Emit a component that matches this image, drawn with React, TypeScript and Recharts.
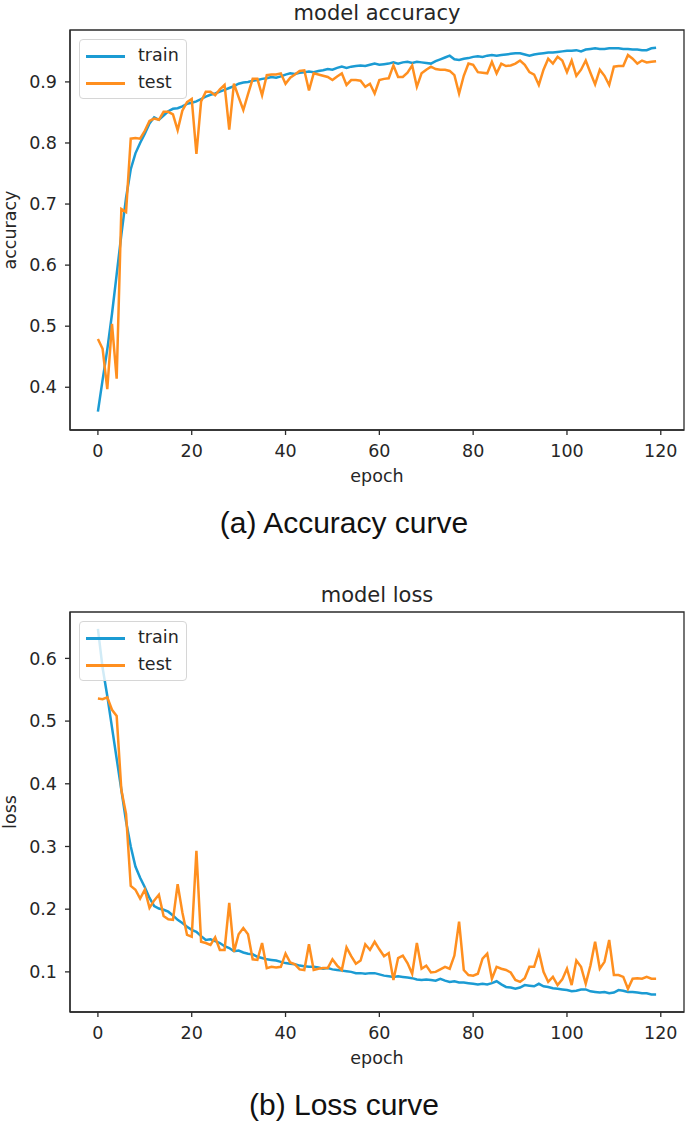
import { Line, LineChart, ReferenceArea, XAxis, YAxis } from "recharts";

const FONT = "DejaVu Sans, sans-serif";
const CAPTION_FONT = "Liberation Sans, Arial, sans-serif";
const TEXT = "#262626";
const AXIS = "#2b2b2b";
const TRAIN_COLOR = "#1b9bd3";
const TEST_COLOR = "#ff8f1f";

const EPOCH_TICKS = [0, 20, 40, 60, 80, 100, 120];
const ACC_TICKS = [0.4, 0.5, 0.6, 0.7, 0.8, 0.9];
const LOSS_TICKS = [0.1, 0.2, 0.3, 0.4, 0.5, 0.6];

const TRAIN_ACC = [
  0.36, 0.412, 0.462, 0.52, 0.585, 0.65, 0.71, 0.757, 0.783, 0.8,
  0.815, 0.832, 0.842, 0.838, 0.845, 0.852, 0.856, 0.857, 0.86, 0.864,
  0.866, 0.868, 0.872, 0.876, 0.879, 0.881, 0.884, 0.887, 0.89, 0.893,
  0.897, 0.899, 0.9, 0.902, 0.903, 0.905, 0.906, 0.908, 0.907, 0.909,
  0.912, 0.914, 0.913, 0.915, 0.916, 0.917, 0.916, 0.918, 0.919, 0.921,
  0.92, 0.923, 0.925, 0.923, 0.925, 0.926, 0.927, 0.926, 0.928, 0.93,
  0.928, 0.929, 0.93, 0.932, 0.93, 0.932, 0.933, 0.931, 0.933, 0.932,
  0.931, 0.93, 0.934, 0.937, 0.94, 0.943, 0.937, 0.936, 0.938, 0.939,
  0.941, 0.942, 0.941, 0.943, 0.944, 0.943, 0.944, 0.945, 0.946, 0.947,
  0.947, 0.945, 0.943, 0.945, 0.946, 0.947, 0.948, 0.948, 0.949, 0.95,
  0.951, 0.951, 0.952, 0.95, 0.953, 0.954, 0.955, 0.954, 0.954, 0.955,
  0.955, 0.955, 0.954, 0.954, 0.953, 0.953, 0.952, 0.952, 0.955, 0.956,
];

const TEST_ACC = [
  0.479, 0.463, 0.397, 0.504, 0.414, 0.692, 0.687, 0.807, 0.808, 0.807,
  0.82, 0.836, 0.84, 0.838, 0.851, 0.851, 0.847, 0.821, 0.853, 0.867,
  0.872, 0.782, 0.868, 0.884, 0.884, 0.878, 0.888, 0.895, 0.822, 0.897,
  0.875, 0.854, 0.88, 0.905, 0.905, 0.878, 0.911, 0.912, 0.912, 0.914,
  0.897, 0.907, 0.912, 0.918, 0.919, 0.886, 0.914, 0.912, 0.91, 0.908,
  0.903, 0.909, 0.914, 0.895, 0.903, 0.903, 0.902, 0.892, 0.897, 0.881,
  0.903, 0.905, 0.906, 0.927, 0.908, 0.908, 0.915, 0.927, 0.892, 0.914,
  0.92, 0.925, 0.921, 0.92, 0.92, 0.918, 0.911, 0.881, 0.91, 0.93,
  0.928, 0.916, 0.915, 0.914, 0.933, 0.914, 0.93, 0.926, 0.927, 0.93,
  0.935, 0.928, 0.916, 0.912, 0.895, 0.92, 0.938, 0.93, 0.941, 0.935,
  0.916, 0.935, 0.91, 0.92, 0.935, 0.915, 0.896, 0.92, 0.91, 0.895,
  0.925, 0.926, 0.926, 0.944, 0.938, 0.93, 0.935, 0.932, 0.933, 0.934,
];

const TRAIN_LOSS = [
  0.647, 0.585, 0.54, 0.49, 0.44, 0.39, 0.34, 0.3, 0.268, 0.25,
  0.235, 0.218, 0.205, 0.201, 0.199, 0.196, 0.19, 0.183, 0.178, 0.172,
  0.167, 0.164, 0.157, 0.151, 0.152, 0.149, 0.146, 0.141, 0.138, 0.133,
  0.134, 0.131, 0.129, 0.128, 0.124, 0.122, 0.12, 0.119, 0.118, 0.116,
  0.114, 0.113, 0.112, 0.11, 0.109, 0.108, 0.108, 0.107, 0.105, 0.106,
  0.104, 0.103, 0.102, 0.101, 0.1, 0.098, 0.098, 0.097, 0.098, 0.098,
  0.096, 0.094, 0.093, 0.092, 0.093, 0.092, 0.091, 0.09, 0.088, 0.087,
  0.088, 0.087, 0.086, 0.089, 0.086, 0.084, 0.085, 0.083, 0.083, 0.082,
  0.081, 0.08, 0.081, 0.08, 0.082, 0.085, 0.08, 0.076, 0.075, 0.073,
  0.075, 0.079, 0.078, 0.077, 0.081, 0.077, 0.076, 0.074, 0.073, 0.072,
  0.071, 0.069, 0.07, 0.072, 0.072, 0.069, 0.068, 0.067, 0.068, 0.066,
  0.067, 0.071, 0.07, 0.068, 0.068, 0.067, 0.066, 0.066, 0.064, 0.064,
];

const TEST_LOSS = [
  0.536, 0.535, 0.538, 0.518, 0.508, 0.39, 0.352, 0.237, 0.231, 0.217,
  0.231, 0.202, 0.214, 0.223, 0.189, 0.184, 0.183, 0.24, 0.195, 0.159,
  0.156, 0.293, 0.148, 0.146, 0.143, 0.155, 0.135, 0.135, 0.21, 0.132,
  0.16, 0.17, 0.16, 0.12, 0.119, 0.146, 0.106, 0.108, 0.107, 0.108,
  0.129, 0.115, 0.112, 0.104, 0.103, 0.144, 0.103, 0.105, 0.106, 0.106,
  0.12, 0.11, 0.103, 0.139, 0.125, 0.113, 0.118, 0.144, 0.135, 0.148,
  0.136, 0.125, 0.13, 0.087, 0.122, 0.126, 0.114, 0.097, 0.146, 0.105,
  0.11, 0.099, 0.1, 0.104, 0.108, 0.105, 0.126, 0.18, 0.103, 0.095,
  0.094, 0.097, 0.121, 0.129, 0.089, 0.108, 0.105, 0.103, 0.099, 0.087,
  0.084, 0.09, 0.108, 0.108, 0.132, 0.1, 0.084, 0.092, 0.079, 0.088,
  0.105, 0.079, 0.118, 0.108, 0.081, 0.11, 0.148, 0.105, 0.116, 0.151,
  0.095, 0.095, 0.092, 0.073, 0.089, 0.09, 0.089, 0.092, 0.089, 0.089,
];

const X_DOMAIN = [-5.95, 124.95];

type PanelProps = {
  top: number;
  title: string;
  yLabel: string;
  caption: string;
  train: number[];
  test: number[];
  yDomain: number[];
  yTicks: number[];
};

function Panel({ top, title, yLabel, caption, train, test, yDomain, yTicks }: PanelProps) {
  const data = train.map((v, i) => ({ epoch: i, train: v, test: test[i] }));
  const tickStyle = { fill: TEXT, fontSize: 17.5, fontFamily: FONT };

  return (
    <div style={{ position: "absolute", left: 0, top, width: 688, height: 560 }}>
      <div
        style={{
          position: "absolute", left: 70, width: 614, top: 13, transform: "translateY(-50%)",
          textAlign: "center", fontFamily: FONT, fontSize: 21, lineHeight: 1, color: TEXT,
        }}
      >
        {title}
      </div>
      <div
        style={{
          position: "absolute", left: 11, top: 230, transform: "translate(-50%, -50%) rotate(-90deg)",
          whiteSpace: "nowrap", fontFamily: FONT, fontSize: 17.5, lineHeight: 1, color: TEXT,
        }}
      >
        {yLabel}
      </div>
      <LineChart width={688} height={500} data={data} margin={{ top: 30, right: 4, bottom: 0, left: 0 }}>
        <XAxis
          dataKey="epoch"
          type="number"
          domain={X_DOMAIN}
          ticks={EPOCH_TICKS}
          interval={0}
          allowDataOverflow
          height={70}
          tickSize={5}
          tickMargin={10}
          stroke={AXIS}
          strokeWidth={1.3}
          tick={tickStyle}
          label={{ value: "epoch", position: "insideBottom", offset: 18, fill: TEXT, fontSize: 17.5, fontFamily: FONT }}
        />
        <YAxis
          type="number"
          domain={yDomain}
          ticks={yTicks}
          interval={0}
          allowDataOverflow
          width={70}
          tickSize={5}
          tickMargin={8}
          stroke={AXIS}
          strokeWidth={1.3}
          tick={tickStyle}
          tickFormatter={(v: number) => v.toFixed(1)}
        />
        <ReferenceArea
          x1={X_DOMAIN[0]}
          x2={X_DOMAIN[1]}
          y1={yDomain[0]}
          y2={yDomain[1]}
          fill="none"
          stroke={AXIS}
          strokeWidth={1.3}
          ifOverflow="visible"
        />
        <Line dataKey="train" type="linear" stroke={TRAIN_COLOR} strokeWidth={2.5} dot={false} isAnimationActive={false} />
        <Line dataKey="test" type="linear" stroke={TEST_COLOR} strokeWidth={2.5} dot={false} isAnimationActive={false} />
      </LineChart>
      <div
        style={{
          position: "absolute", left: 79, top: 39, width: 108, height: 60, boxSizing: "border-box",
          border: "1px solid #d6d6d6", borderRadius: 4, background: "rgba(255,255,255,0.8)",
        }}
      >
        {[
          { name: "train", color: TRAIN_COLOR, y: 16 },
          { name: "test", color: TEST_COLOR, y: 43 },
        ].map((it) => (
          <div key={it.name}>
            <div style={{ position: "absolute", left: 6, top: it.y - 1.5, width: 39, height: 3, background: it.color }} />
            <div
              style={{
                position: "absolute", left: 58, top: it.y, transform: "translateY(-50%)",
                fontFamily: FONT, fontSize: 17.5, lineHeight: 1, color: TEXT,
              }}
            >
              {it.name}
            </div>
          </div>
        ))}
      </div>
      <div
        style={{
          position: "absolute", left: 0, width: 688, top: 523, transform: "translateY(-50%)",
          textAlign: "center", fontFamily: CAPTION_FONT, fontSize: 30, lineHeight: 1, color: "#111",
        }}
      >
        {caption}
      </div>
    </div>
  );
}

export default function App() {
  return (
    <div style={{ position: "absolute", left: 0, top: 0, width: 688, height: 1130, background: "#fff" }}>
      <Panel
        top={0}
        title="model accuracy"
        yLabel="accuracy"
        caption="(a) Accuracy curve"
        train={TRAIN_ACC}
        test={TEST_ACC}
        yDomain={[0.33, 0.985]}
        yTicks={ACC_TICKS}
      />
      <Panel
        top={582}
        title="model loss"
        yLabel="loss"
        caption="(b) Loss curve"
        train={TRAIN_LOSS}
        test={TEST_LOSS}
        yDomain={[0.036, 0.674]}
        yTicks={LOSS_TICKS}
      />
    </div>
  );
}
